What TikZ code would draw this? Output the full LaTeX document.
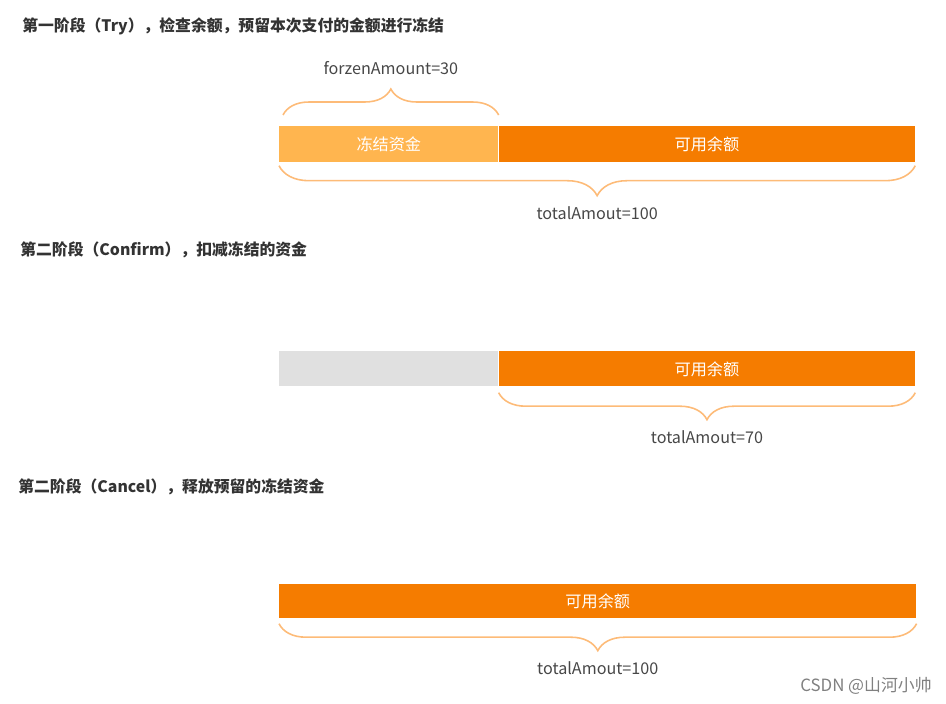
\documentclass[tikz,border=0pt]{standalone}
\usepackage{fontspec}
\setmainfont{Noto Sans CJK SC}
\usetikzlibrary{positioning,decorations.pathreplacing}

\definecolor{frozenorange}{HTML}{FFB54F}
\definecolor{availorange}{HTML}{F57C00}
\definecolor{usedgray}{HTML}{E0E0E0}
\definecolor{braceorange}{HTML}{FDBB78}
\definecolor{textgray}{HTML}{333333}

\begin{document}
\begin{tikzpicture}[x = 0.02cm, y = -0.02cm,
        stage/.style={anchor=west, inner sep=0pt, text=textgray, font=\fontsize{9}{10}\selectfont\bfseries},
        bar/.style={rectangle, inner sep=0pt, text=white, font=\fontsize{9.2}{10}\selectfont},
        frozen/.style={bar, fill=frozenorange, minimum width=4.38cm},
        avail/.style={bar, fill=availorange},
        used/.style={bar, fill=usedgray, minimum width=4.38cm},
        amount/.style={inner sep=0pt, text=textgray!90, font=\fontsize{9.2}{10}\selectfont},
        bracepath/.style={decorate, draw=braceorange, line width=0.9pt, decoration={brace, amplitude=#1}}
    ]
        \useasboundingbox (0,0) rectangle (946,703);

        % Stage titles
        \node[stage] (try) at (22,26) {第一阶段（Try），检查余额，预留本次支付的金额进行冻结};
        \node[stage] (confirm) at (20,250) {第二阶段（Confirm），扣减冻结的资金};
        \node[stage] (cancel) at (18,487) {第二阶段（Cancel），释放预留的冻结资金};

        % Bars
        \node[frozen, anchor=north west, minimum height=0.72cm] (frozen1) at (279,126) {冻结资金};
        \node[avail, right=0pt of frozen1, minimum width=8.32cm, minimum height=0.72cm] (avail1) {可用余额};

        \node[used, anchor=north west, minimum height=0.70cm] (used2) at (279,351) {};
        \node[avail, right=0pt of used2, minimum width=8.32cm, minimum height=0.70cm] (avail2) {可用余额};

        \node[avail, anchor=north west, minimum width=12.74cm, minimum height=0.68cm] (avail3) at (279,584) {可用余额};

        % Braces: Try
        \draw[bracepath=0.52cm] ([shift={(4,-11)}]frozen1.north west) -- ([shift={(0,-11)}]frozen1.north east)
            node[amount, midway, yshift=0.94cm] (frozenamt) {forzenAmount=30};
        \draw[bracepath=0.6cm] ([shift={(0,3)}]avail1.south east) -- ([shift={(0,3)}]frozen1.south west)
            node[amount, midway, yshift=-0.94cm] (total1) {totalAmout=100};

        % Braces: Confirm
        \draw[bracepath=0.54cm] ([shift={(0,6)}]avail2.south east) -- ([shift={(0,6)}]avail2.south west)
            node[amount, midway, yshift=-0.88cm] (total2) {totalAmout=70};

        % Braces: Cancel
        \draw[bracepath=0.54cm] ([shift={(0,5)}]avail3.south east) -- ([shift={(0,5)}]avail3.south west)
            node[amount, midway, yshift=-0.88cm] (total3) {totalAmout=100};

        % Watermark
        \node[anchor=east, inner sep=0pt, text=gray, font=\fontsize{9.6}{10}\selectfont] (mark) at (932,686) {CSDN @山河小帅};
    \end{tikzpicture}
\end{document}
